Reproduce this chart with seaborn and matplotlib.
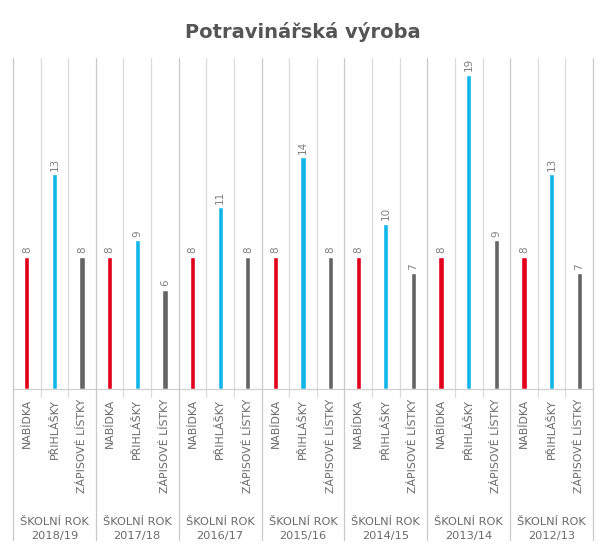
import matplotlib
matplotlib.use('Agg')
import matplotlib.pyplot as plt
import seaborn as sns
import pandas as pd

years = ['2018/19', '2017/18', '2016/17', '2015/16', '2014/15', '2013/14', '2012/13']
series = ['NABÍDKA', 'PŘIHLÁŠKY', 'ZÁPISOVÉ LÍSTKY']
nabidka = [8, 8, 8, 8, 8, 8, 8]
prihlasky = [13, 9, 11, 14, 10, 19, 13]
zapisove = [8, 6, 8, 8, 7, 9, 7]
colors = ['#E2001A', '#12B5E8', '#646464']

rows = []
for i, y in enumerate(years):
    for j, (s, vals) in enumerate(zip(series, [nabidka, prihlasky, zapisove])):
        rows.append({'slot': i * 3 + j, 'year': y, 'series': s, 'value': vals[i]})
df = pd.DataFrame(rows)

sns.set_style('white')
plt.rcParams['font.family'] = ['DejaVu Sans']
fig = plt.figure(figsize=(6.05, 5.53), dpi=100)
ax = fig.add_axes([13 / 605, 1 - 389 / 553, 580 / 605, 331 / 553])

sns.barplot(data=df, x='slot', y='value', hue='series', palette=colors,
            saturation=1, dodge=False, width=0.19, legend=False, ax=ax)

ax.set_xlim(-0.5, len(df) - 0.5)
ax.set_ylim(0, 20)
ax.set_yticks([])
ax.set_ylabel('')
ax.set_xlabel('')

grey = '#6a6a6a'
# value labels
for _, r in df.iterrows():
    ax.text(r['slot'], r['value'] + 0.2, str(r['value']), rotation=90,
            ha='center', va='bottom', fontsize=7.5, color='#808080')

# gridlines between slots
for k in range(len(df) + 1):
    x = k - 0.5
    if k % 3 == 0:
        ax.axvline(x, ymin=-0.456, ymax=1, color='#c8c8c8', lw=0.9, clip_on=False)
    else:
        ax.axvline(x, ymin=-0.025, ymax=1, color='#dcdcdc', lw=0.9, clip_on=False)

ax.set_xticks(df['slot'])
ax.set_xticklabels(df['series'], rotation=90, fontsize=7.8, color=grey, va='top')
ax.tick_params(axis='x', length=0, pad=7)

for i, y in enumerate(years):
    ax.text(i * 3 + 1, -8.45, 'ŠKOLNÍ ROK\n' + y, ha='center', va='center',
            fontsize=8.2, color=grey, linespacing=1.5)

for s in ['top', 'left', 'right']:
    ax.spines[s].set_visible(False)
ax.spines['bottom'].set_color('#d0d0d0')
ax.spines['bottom'].set_linewidth(0.9)

fig.text(0.5, 1 - 32 / 553, 'Potravinářská výroba', ha='center', va='center',
         fontsize=14, fontweight='bold', color='#555555')

fig.savefig('out.png', dpi=100, facecolor='white')
